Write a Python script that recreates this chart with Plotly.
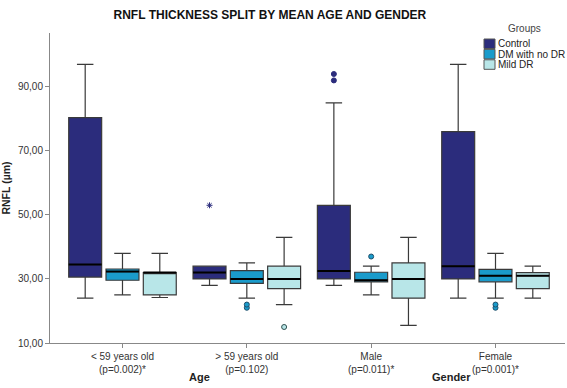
import plotly.graph_objects as go

# ---------------- data ----------------
categories = ["< 59 years old<br>(p=0.002)*", "> 59 years old<br>(p=0.102)",
              "Male<br>(p=0.011)*", "Female<br>(p=0.001)*"]
groups = ["Control", "DM with no DR", "Mild DR"]

control_lower = [24, 28, 28, 24]
control_q1 = [30.6, 30, 30, 30]
control_median = [34.5, 32, 32.5, 34]
control_q3 = [80.4, 34, 53, 76]
control_upper = [97, 34, 85, 97]

dm_lower = [25, 24, 25, 24]
dm_q1 = [29.6, 28.6, 29.1, 29.1]
dm_median = [32.3, 30, 29.6, 31]
dm_q3 = [33.1, 32.6, 32.1, 33]
dm_upper = [38, 35, 34, 38]

mild_lower = [24.2, 22, 15.5, 24]
mild_q1 = [25, 27, 24, 27]
mild_median = [32, 30, 30, 31]
mild_q3 = [32, 34, 35, 32]
mild_upper = [38, 43, 43, 34]

# outliers: (category index, value)
control_out_cat = [2, 2]
control_out_val = [92, 94]
control_ext_cat = [1]
control_ext_val = [53]
dm_out_cat = [1, 1, 2, 3, 3]
dm_out_val = [21, 22, 37, 21, 22]
mild_out_cat = [1]
mild_out_val = [15]

y_ticks = [10, 30, 50, 70, 90]
y_tick_text = ["10,00", "30,00", "50,00", "70,00", "90,00"]

# ---------------- style ----------------
colors = ["#2B2C7C", "#1A9BCB", "#B8E6E8"]
offsets = [-0.30, 0.0, 0.30]
box_w = 0.265
line_col = "#3A3A3A"
font_fam = "Liberation Sans, Arial, sans-serif"

stats = [
    (control_lower, control_q1, control_median, control_q3, control_upper),
    (dm_lower, dm_q1, dm_median, dm_q3, dm_upper),
    (mild_lower, mild_q1, mild_median, mild_q3, mild_upper),
]

fig = go.Figure()
for g, name in enumerate(groups):
    lo, q1, med, q3, up = stats[g]
    xs = [i + offsets[g] for i in range(len(categories))]
    fig.add_trace(go.Box(
        name=name, x=xs, lowerfence=lo, q1=q1, median=med, q3=q3, upperfence=up,
        width=box_w, whiskerwidth=0.5, fillcolor=colors[g],
        line=dict(color=line_col, width=1.2), boxpoints=False,
        hoverinfo="skip", showlegend=False,
    ))

# thicker black median lines, drawn from the median values
mx, my = [], []
for g in range(len(groups)):
    med = stats[g][2]
    for i, m in enumerate(med):
        c = i + offsets[g]
        mx += [c - box_w / 2, c + box_w / 2, None]
        my += [m, m, None]
fig.add_trace(go.Scatter(x=mx, y=my, mode="lines", line=dict(color="#000", width=2),
                         showlegend=False, hoverinfo="skip"))

def add_pts(cats, vals, g, symbol, size, fill, outline):
    fig.add_trace(go.Scatter(
        x=[c + offsets[g] for c in cats], y=vals, mode="markers",
        marker=dict(symbol=symbol, size=size, color=fill,
                    line=dict(color=outline, width=1)),
        showlegend=False, hoverinfo="skip",
    ))

add_pts(control_out_cat, control_out_val, 0, "circle", 5, colors[0], colors[0])
add_pts(control_ext_cat, control_ext_val, 0, "asterisk", 5, colors[0], colors[0])
add_pts(dm_out_cat, dm_out_val, 1, "circle", 5, colors[1], "#1F4F6A")
add_pts(mild_out_cat, mild_out_val, 2, "circle", 5, colors[2], "#2F4F4F")

# group labels under the axis
fig.add_annotation(text="<b>Age</b>", x=0.62, y=-0.134, xref="x", yref="paper",
                   showarrow=False, font=dict(size=11, color="#222", family=font_fam))
fig.add_annotation(text="<b>Gender</b>", x=2.65, y=-0.134, xref="x", yref="paper",
                   showarrow=False, font=dict(size=11, color="#222", family=font_fam))

# compact legend (swatches + labels) in the top-right corner
lg_x0, lg_y0, sw_w, sw_h, step = 484, 39, 11, 9.5, 10.4   # pixel layout
plot_l, plot_r, plot_t, plot_b = 50, 565, 33, 343
def px_x(p): return (p - plot_l) / (plot_r - plot_l)
def px_y(p): return (plot_b - p) / (plot_b - plot_t)
fig.add_annotation(text="Groups", x=px_x(524), y=px_y(29), xref="paper", yref="paper",
                   showarrow=False, xanchor="center", yanchor="middle",
                   font=dict(size=10, color="#444", family=font_fam))
for g, name in enumerate(groups):
    top = lg_y0 + g * step
    fig.add_shape(type="rect", xref="paper", yref="paper",
                  x0=px_x(lg_x0), x1=px_x(lg_x0 + sw_w), y0=px_y(top + sw_h), y1=px_y(top),
                  fillcolor=colors[g], line=dict(color="#555", width=1))
    fig.add_annotation(text=name, x=px_x(lg_x0 + sw_w + 1), y=px_y(top + sw_h / 2),
                       xref="paper", yref="paper", showarrow=False,
                       xanchor="left", yanchor="middle",
                       font=dict(size=10, color="#222", family=font_fam))

fig.update_layout(
    width=567, height=388,
    margin=dict(l=plot_l, r=567 - plot_r, t=plot_t, b=388 - plot_b, autoexpand=False),
    paper_bgcolor="white", plot_bgcolor="white",
    title=dict(text="<b>RNFL THICKNESS SPLIT BY MEAN AGE AND GENDER</b>",
               x=0.476, xanchor="center", y=0.962, yanchor="middle",
               font=dict(size=12, color="#111", family=font_fam)),
    font=dict(family=font_fam, size=10, color="#333"),
    showlegend=False,
    xaxis=dict(range=[-0.583, 3.559], tickvals=list(range(len(categories))),
               ticktext=categories, showgrid=False, zeroline=False,
               showline=True, linecolor="#888", linewidth=1,
               ticks="outside", ticklen=4, tickcolor="#888",
               tickfont=dict(size=10, color="#333")),
    yaxis=dict(range=[10, 106.8], tickvals=y_ticks, ticktext=y_tick_text,
               showgrid=False, zeroline=False, showline=True, linecolor="#888",
               linewidth=1, ticks="outside", ticklen=4, tickcolor="#888",
               tickfont=dict(size=10, color="#333"),
               title=dict(text="<b>RNFL (µm)</b>", standoff=6,
                          font=dict(size=10.5, color="#222"))),
)

# remove the browser's default page margin so the 567x388 figure fills the window
fig.write_html("out.html", config={"displayModeBar": False},
               post_script="document.body.style.margin='0';document.body.style.overflow='hidden';")
